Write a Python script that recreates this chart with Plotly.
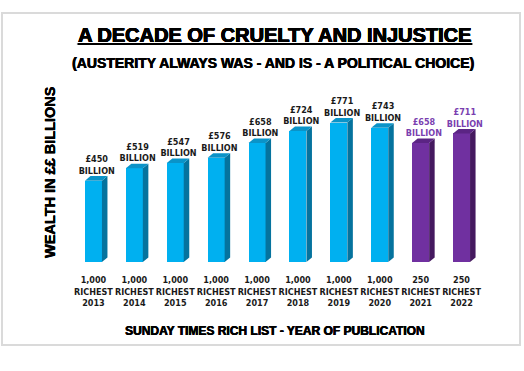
import plotly.graph_objects as go

# ---- data ----
years = ["2013", "2014", "2015", "2016", "2017", "2018", "2019", "2020", "2021", "2022"]
group_sizes = ["1,000", "1,000", "1,000", "1,000", "1,000", "1,000", "1,000", "1,000", "250", "250"]
wealth_bn = [450, 519, 547, 576, 658, 724, 771, 743, 658, 711]
value_labels = ["£450", "£519", "£547", "£576", "£658", "£724", "£771", "£743", "£658", "£711"]

tick_labels = [f"<b>{g}<br>RICHEST<br>{y}</b>" for g, y in zip(group_sizes, years)]
xs = list(range(len(years)))

BLUE = dict(front="#00B0F0", side="#05739E", top="#0A93C8", text="#1a1a1a")
PURPLE = dict(front="#7030A0", side="#45195F", top="#5B2484", text="#7A3FB0")
palette = [BLUE if g == "1,000" else PURPLE for g in group_sizes]

W = 0.415      # bar front width (category units)
DX = 0.135     # depth offset in x (category units)
DY = 25        # depth offset in y (value units)

FONT_NARROW = "Liberation Sans Narrow, DejaVu Sans Condensed, Arial Narrow, sans-serif"
FONT_HEAVY = "Liberation Sans, Arial, sans-serif"
THICK = "0.45px 0 0 black, -0.2px 0 0 black"

fig = go.Figure()

# front faces
fig.add_trace(go.Bar(
    x=xs, y=wealth_bn, width=W,
    marker=dict(color=[p["front"] for p in palette], line=dict(width=0)),
    hoverinfo="skip", showlegend=False,
))

# side and top faces computed from the values
for x, v, p in zip(xs, wealth_bn, palette):
    r = x + W / 2
    l = x - W / 2
    fig.add_trace(go.Scatter(
        x=[r, r + DX, r + DX, r, r], y=[0, DY, v + DY, v, 0],
        fill="toself", fillcolor=p["side"], mode="lines", line=dict(width=0),
        hoverinfo="skip", showlegend=False,
    ))
    fig.add_trace(go.Scatter(
        x=[l, l + DX, r + DX, r, l], y=[v, v + DY, v + DY, v, v],
        fill="toself", fillcolor=p["top"], mode="lines", line=dict(width=0),
        hoverinfo="skip", showlegend=False,
    ))

# value labels
fig.add_trace(go.Scatter(
    x=[x + 0.08 for x in xs], y=[v + DY for v in wealth_bn],
    mode="text",
    text=[f"<b>{t}<br>BILLION</b>" for t in value_labels],
    textposition="top center",
    textfont=dict(family=FONT_NARROW, size=9, color=[p["text"] for p in palette]),
    cliponaxis=False,
    hoverinfo="skip", showlegend=False,
))

fig.update_layout(
    width=524, height=371,
    margin=dict(l=73, r=42, t=100, b=109),
    paper_bgcolor="white", plot_bgcolor="white",
    bargap=0,
    xaxis=dict(
        range=[-0.5, 9.5], tickmode="array", tickvals=xs, ticktext=tick_labels,
        tickfont=dict(family=FONT_NARROW, size=9, color="#1a1a1a"),
        tickangle=0,
        showgrid=False, zeroline=False, showline=False, ticks="",
        ticklabelstandoff=11,
    ),
    yaxis=dict(range=[0, 896], visible=False, showgrid=False),
    shapes=[dict(
        type="rect", xref="paper", yref="paper",
        x0=(2 - 73) / 409, x1=(520 - 73) / 409,
        y0=(262 - 345) / 162, y1=(262 - 13) / 162,
        line=dict(color="#DADADA", width=2), fillcolor="rgba(0,0,0,0)", layer="below",
    )],
    annotations=[
        dict(text="<u><b>A DECADE OF CRUELTY AND INJUSTICE</b></u>",
             xref="paper", yref="paper", x=(274 - 73) / 409, y=(262 - 35) / 162,
             xanchor="center", yanchor="middle", showarrow=False,
             font=dict(family=FONT_HEAVY, size=20, color="black", shadow=THICK)),
        dict(text="<b>(AUSTERITY ALWAYS WAS - AND IS - A POLITICAL CHOICE)</b>",
             xref="paper", yref="paper", x=(273 - 73) / 409, y=(262 - 63) / 162,
             xanchor="center", yanchor="middle", showarrow=False,
             font=dict(family=FONT_HEAVY, size=14, color="black", shadow=THICK)),
        dict(text="<b>WEALTH IN ££ BILLIONS</b>",
             xref="paper", yref="paper", x=(50 - 73) / 409, y=(262 - 172) / 162,
             xanchor="center", yanchor="middle", showarrow=False, textangle=-90,
             font=dict(family=FONT_HEAVY, size=14.5, color="black", shadow=THICK)),
        dict(text="<b>SUNDAY TIMES RICH LIST - YEAR OF PUBLICATION</b>",
             xref="paper", yref="paper", x=(275 - 73) / 409, y=(262 - 331) / 162,
             xanchor="center", yanchor="middle", showarrow=False,
             font=dict(family=FONT_HEAVY, size=12, color="black", shadow=THICK)),
    ],
)

fig.write_html("out.html", config={"displayModeBar": False})

# remove the default page margin so the figure sits at the window origin
with open("out.html", "r", encoding="utf-8") as f:
    html = f.read()
html = html.replace("<head>", "<head><style>html,body{margin:0;padding:0;overflow:hidden;}</style>", 1)
with open("out.html", "w", encoding="utf-8") as f:
    f.write(html)
